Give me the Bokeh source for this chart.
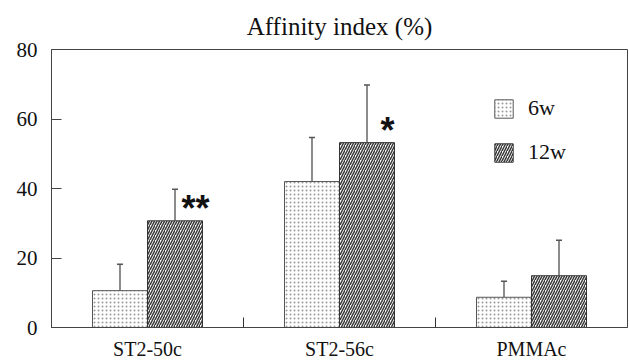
from bokeh.plotting import figure
from bokeh.models import (ColumnDataSource, FixedTicker, Legend, LegendItem,
                          Whisker, TeeHead, Range1d)
from bokeh.core.properties import value
from bokeh.embed import file_html
from bokeh.resources import INLINE

# ---- data ----
categories = ["ST2-50c", "ST2-56c", "PMMAc"]
mean_6w = [10.6, 42.0, 8.7]
sd_6w = [7.6, 12.7, 4.6]
mean_12w = [30.7, 53.2, 14.9]
sd_12w = [9.1, 16.6, 10.2]
signif_12w = ["**", "*", ""]
y_ticks = [0, 20, 40, 60, 80]

BAR_W = 0.2865
SERIF = "Liberation Serif"

centers = [i + 0.5 for i in range(len(categories))]
src6 = ColumnDataSource(dict(
    x=[c - BAR_W / 2 for c in centers], top=mean_6w,
    upper=[m + s for m, s in zip(mean_6w, sd_6w)]))
src12 = ColumnDataSource(dict(
    x=[c + BAR_W / 2 for c in centers], top=mean_12w,
    upper=[m + s for m, s in zip(mean_12w, sd_12w)]))
star_src = ColumnDataSource(dict(
    x=[c + 0.25 for c in centers],
    y=[m + 5.5 for m in mean_12w], t=signif_12w))

p = figure(frame_width=576, frame_height=278, output_backend="svg",
           toolbar_location=None, x_range=Range1d(0, 3), y_range=Range1d(0, 80),
           min_border_left=51, min_border_right=2, min_border_bottom=24,
           min_border_top=10)
p.title.text = "Affinity index (%)"
p.title.align = "center"
p.title.text_font = SERIF
p.title.text_font_size = "25px"
p.title.text_font_style = "normal"
p.title.text_color = "#111111"
p.title.standoff = 20

p.xgrid.visible = False
p.ygrid.visible = False
p.outline_line_color = "#444444"
p.outline_line_width = 1
p.background_fill_color = "white"
p.border_fill_color = "white"

r6 = p.vbar(x="x", top="top", width=BAR_W, source=src6, fill_color="white",
            line_color="#555555", line_width=1, hatch_pattern="dot",
            hatch_color="#999999", hatch_scale=4, hatch_weight=1)
r12 = p.vbar(x="x", top="top", width=BAR_W, source=src12, fill_color="white",
             line_color="#333333", line_width=1,
             hatch_pattern="right_diagonal_line", hatch_color="#3a3a3a",
             hatch_scale=5, hatch_weight=1.5)

for s in (src6, src12):
    w = Whisker(source=s, base="x", upper="upper", lower="top",
                line_color="#666666", line_width=1.5, lower_head=None,
                upper_head=TeeHead(size=6, line_color="#555555", line_width=1.5))
    p.add_layout(w)

p.text(x="x", y="y", text="t", source=star_src, text_font=value("Liberation Sans"),
       text_font_style="bold", text_font_size="36px", text_align="center",
       text_baseline="middle", text_color="#111111", y_offset=7)

# axes
xa = p.xaxis[0]
xa.ticker = FixedTicker(ticks=centers, minor_ticks=[1, 2])
xa.major_label_overrides = {c: n for c, n in zip(centers, categories)}
xa.major_tick_line_color = None
xa.minor_tick_in = 10
xa.minor_tick_out = 0
xa.minor_tick_line_color = "#333333"
xa.axis_line_color = "#444444"
xa.major_label_text_font = SERIF
xa.major_label_text_font_size = "20px"
xa.major_label_text_color = "#111111"
xa.major_label_standoff = 4

ya = p.yaxis[0]
ya.ticker = FixedTicker(ticks=y_ticks)
ya.major_tick_in = 10
ya.major_tick_out = 0
ya.minor_tick_line_color = None
ya.major_tick_line_color = "#444444"
ya.axis_line_color = "#444444"
ya.major_label_text_font = SERIF
ya.major_label_text_font_size = "21px"
ya.major_label_text_color = "#111111"
ya.major_label_standoff = 14

legend = Legend(items=[LegendItem(label="6w", renderers=[r6]),
                       LegendItem(label="12w", renderers=[r12])],
                location=(441, 162), padding=0, margin=0, spacing=18,
                glyph_width=23, glyph_height=23, label_standoff=13,
                label_height=21, border_line_alpha=0,
                background_fill_alpha=0, label_text_font=SERIF,
                label_text_font_size="22px", label_text_color="#111111")
p.add_layout(legend)

open("out.html", "w").write(file_html(p, INLINE))
